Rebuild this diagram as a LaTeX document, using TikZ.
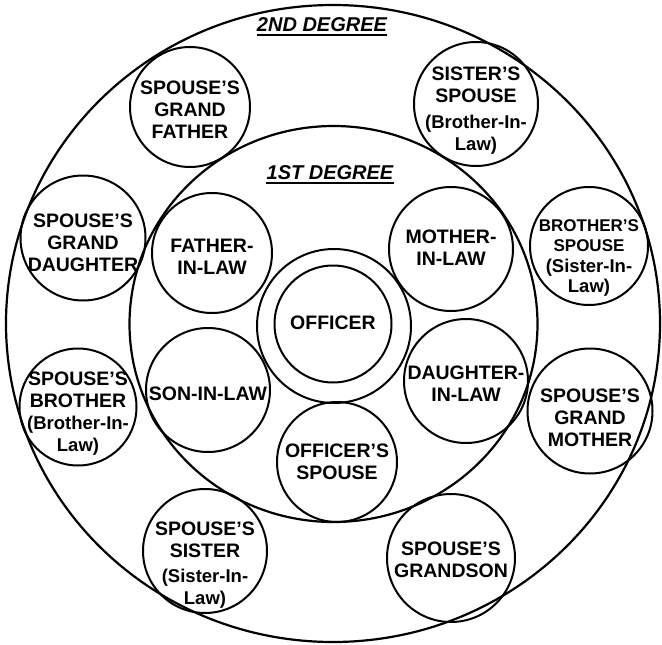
\documentclass[tikz,border=0pt]{standalone}
\usepackage{fontspec}
\setmainfont{Liberation Sans}
\usetikzlibrary{positioning}
\tikzset{
  ring/.style={line width=2.2pt},
  bubble/.style={draw,circle,line width=2pt,inner sep=0pt,minimum size=#1},
  bubble/.default=122pt,
  caps/.style={font=\bfseries\fontsize{19.5}{22}\selectfont,align=center,inner sep=0pt},
  smallcaps/.style={font=\bfseries\fontsize{17}{20.5}\selectfont,align=center,inner sep=0pt},
  degree/.style={font=\bfseries\itshape\fontsize{20}{24}\selectfont,inner sep=0pt},
  uline/.style={line width=2pt},
}
\newcommand\inlaw[1]{{\fontsize{18.5}{20}\selectfont #1}}

\begin{document}
\begin{tikzpicture}[x=1pt,y=-1pt]
  \useasboundingbox (0,0) rectangle (662,645);

  % degree rings
  \draw[ring] (333,323.5) ellipse [x radius=327, y radius=318.5];
  \draw[ring] (333.5,324) ellipse [x radius=204, y radius=198];

  \node[degree] (deg2) at (322,25) {2ND DEGREE};
  \draw[uline] ([yshift=-3pt]deg2.base west) -- ([yshift=-3pt]deg2.base east);
  \node[degree] (deg1) at (330,173) {1ST DEGREE};
  \draw[uline] ([yshift=-3pt]deg1.base west) -- ([yshift=-3pt]deg1.base east);

  % centre
  \node[bubble=154pt] (offring) at (334,326) {};
  \node[bubble=117pt,label={[caps,yshift=1pt]center:OFFICER}] (off) at (333,324) {};

  % 1st degree
  \node[bubble=120pt,label={[caps,yshift=-4pt]center:{FATHER-\\IN-LAW}}] (fil) at (212,253) {};
  \node[bubble=124pt,label={[caps,yshift=1pt]center:{MOTHER-\\IN-LAW}}] (mil) at (451,249) {};
  \node[bubble=124pt,label={[caps,yshift=-4pt]center:SON-IN-LAW}] (sil) at (208,390) {};
  \node[bubble=124pt,label={[caps,yshift=-3pt]center:{DAUGHTER-\\IN-LAW}}] (dil) at (466,381) {};
  \node[bubble=120pt,label={[caps]center:{OFFICER'S\\SPOUSE}}] (os) at (337,462) {};

  % 2nd degree
  \node[bubble=120pt,label={[caps,yshift=-3pt]center:{SPOUSE'S\\GRAND\\FATHER}}] (gf) at (190,107) {};
  \node[bubble=125pt,label={[caps,yshift=-5pt]center:{SPOUSE'S\\GRAND\\DAUGHTER}}] (gd) at (83,238) {};
  \node[bubble=124pt,label={[caps,yshift=-7pt]center:{SISTER'S\\SPOUSE\\[4pt]\inlaw{(Brother-In-}\\\inlaw{Law)}}}] (ss) at (476,104) {};
  \node[bubble=118pt,label={[smallcaps,yshift=-12pt]center:{BROTHER'S\\SPOUSE\\\inlaw{(Sister-In-}\\\inlaw{Law)}}}] (bs) at (589,246) {};
  \node[bubble=117pt,label={[caps,yshift=-7pt]center:{SPOUSE'S\\BROTHER\\\inlaw{(Brother-In-}\\\inlaw{Law)}}}] (sb) at (78,407) {};
  \node[bubble=125pt,label={[caps,yshift=-7pt]center:{SPOUSE'S\\GRAND\\MOTHER}}] (gm) at (590,411) {};
  \node[bubble=124pt,label={[caps,yshift=-14pt]center:{SPOUSE'S\\SISTER\\[3pt]\inlaw{(Sister-In-}\\\inlaw{Law)}}}] (ssis) at (205,551) {};
  \node[bubble=128pt,label={[caps,yshift=-2pt]center:{SPOUSE'S\\GRANDSON}}] (gs) at (451,558) {};
\end{tikzpicture}
\end{document}
